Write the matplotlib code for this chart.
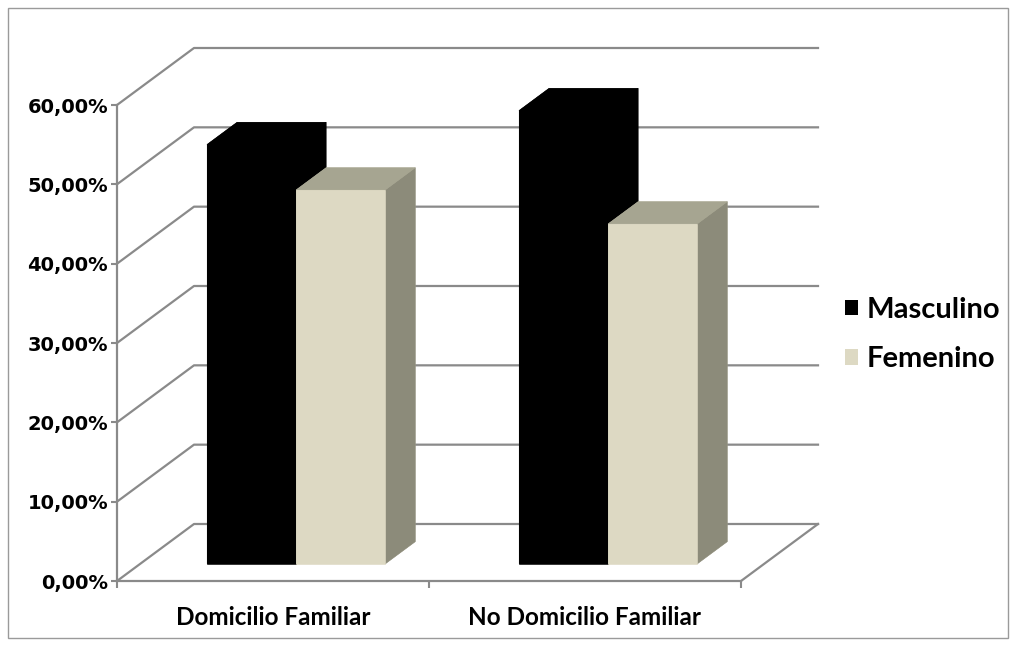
import matplotlib.pyplot as plt
from matplotlib.patches import Polygon, Patch, Rectangle

# data
categories = ['Domicilio Familiar', 'No Domicilio Familiar']
series_names = ['Masculino', 'Femenino']
masculino = [52.86, 57.14]
femenino = [47.14, 42.86]
y_ticks = [0, 10, 20, 30, 40, 50, 60]
y_tick_labels = ['0,00%', '10,00%', '20,00%', '30,00%', '40,00%', '50,00%', '60,00%']

# colours per series: front, top, side faces
face_colors = {
    'Masculino': ('#000000', '#000000', '#000000'),
    'Femenino': ('#DDD9C3', '#A6A591', '#8C8B7A'),
}
grid_color = '#8a8a8a'

# oblique projection of the depth axis, in data units (x: categories, y: percent)
DX, DY = 0.2468, 7.185
D0, D1 = 0.30, 0.69        # bar front / back depth as fraction of full depth
BAR_W = 1 / 3.5            # two bars + 150% gap per category

fig = plt.figure(figsize=(10.16, 6.46), dpi=100)
fig.patches.append(Rectangle((8 / 1016, 8 / 646), 1000 / 1016, 630 / 646,
                             transform=fig.transFigure, fill=False,
                             edgecolor='#9a9a9a', lw=1.0))

ax = fig.add_axes([117 / 1016, 65 / 646, 624 / 1016, 476 / 646])
ax.set_xlim(0, 2)
ax.set_ylim(0, 60)
ax.patch.set_visible(False)

# walls: left side wall + back wall gridlines
for v in y_ticks:
    ax.plot([0, DX, 2 + DX], [v, v + DY, v + DY], color=grid_color, lw=1.6,
            clip_on=False, zorder=1)
# floor right edge
ax.plot([2, 2 + DX], [0, DY], color=grid_color, lw=1.6, clip_on=False, zorder=1)


def draw_bar(x0, value, colors):
    front, top, side = colors
    sx, sy = D0 * DX, D0 * DY
    tx, ty = (D1 - D0) * DX, (D1 - D0) * DY
    xa, xb = x0 + sx, x0 + BAR_W + sx
    y0, y1 = sy, sy + value
    # solid silhouette underneath so no seams show between faces
    outline = [(xa, y0), (xb, y0), (xb + tx, y0 + ty), (xb + tx, y1 + ty),
               (xa + tx, y1 + ty), (xa, y1)]
    ax.add_patch(Polygon(outline, closed=True, fc=front, ec='none',
                         clip_on=False, zorder=3))
    faces = [
        ([(xb, y0), (xb + tx, y0 + ty), (xb + tx, y1 + ty), (xb, y1)], side),
        ([(xa, y1), (xb, y1), (xb + tx, y1 + ty), (xa + tx, y1 + ty)], top),
        ([(xa, y0), (xb, y0), (xb, y1), (xa, y1)], front),
    ]
    for pts, c in faces:
        ax.add_patch(Polygon(pts, closed=True, fc=c, ec=c, lw=0.4,
                             clip_on=False, zorder=3))


for i in range(len(categories)):
    left = i + 0.5 - BAR_W
    for j, (name, vals) in enumerate(zip(series_names, [masculino, femenino])):
        draw_bar(left + j * BAR_W, vals[i], face_colors[name])

# axes styling
for s in ['top', 'right']:
    ax.spines[s].set_visible(False)
for s in ['left', 'bottom']:
    ax.spines[s].set_color(grid_color)
    ax.spines[s].set_linewidth(1.6)
    ax.spines[s].set_zorder(2)

ax.set_yticks(y_ticks)
ax.set_yticklabels(y_tick_labels, fontsize=14, fontweight='bold',
                   family='DejaVu Sans')
ax.tick_params(axis='y', direction='out', length=4.5, width=1.5,
               color=grid_color, pad=2)

ax.set_xticks([0, 1, 2])
ax.set_xticklabels([])
ax.tick_params(axis='x', which='major', direction='out', length=5, width=1.5,
               color=grid_color)
ax.set_xticks([0.5, 1.5], minor=True)
ax.set_xticklabels(categories, minor=True, fontsize=17.5, fontweight='bold',
                   family='Lato')
ax.tick_params(axis='x', which='minor', length=0, pad=18)

handles = [Patch(fc=face_colors[n][0], ec='none', label=n) for n in series_names]
fig.legend(handles=handles, loc='upper left',
           bbox_to_anchor=(845 / 1016, 1 - 297 / 646), frameon=False,
           prop={'family': 'Lato', 'weight': 'bold', 'size': 21},
           handlelength=0.45, handleheight=0.45, handletextpad=0.3,
           labelspacing=0.8, borderpad=0, borderaxespad=0)

fig.savefig('out.png', dpi=100)
